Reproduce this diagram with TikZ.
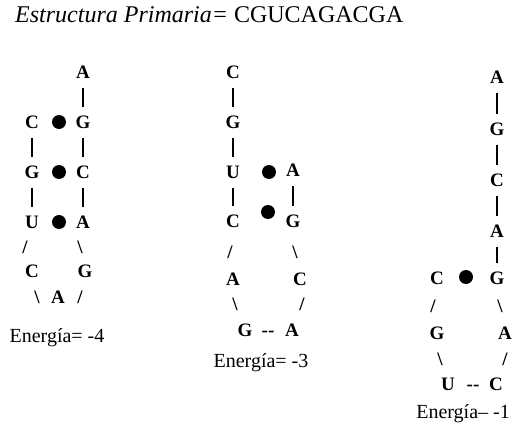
\documentclass[tikz,border=0pt]{standalone}
\usepackage{fontspec}
\setmainfont{Liberation Serif}
\begin{document}
\begin{tikzpicture}[x=1pt,y=-1pt,
  base/.style={font=\fontsize{19}{19}\selectfont\bfseries, inner sep=0pt},
  glyph/.style={font=\fontsize{19}{19}\selectfont\bfseries, inner sep=0pt, execute at begin node=\vphantom{G}},
  bp/.style={circle, fill=black, minimum size=14pt, inner sep=0pt},
  bar/.style={line width=1.5pt, shorten >=15.5pt, shorten <=15.5pt},
  lbl/.style={font=\fontsize{20}{20}\selectfont, inner sep=0pt, anchor=base}]
\useasboundingbox (0,0) rectangle (512,431);
% title
\node[inner sep=0pt, anchor=base west, font=\fontsize{24}{24}\selectfont] (title) at (15,23) {\textit{Estructura Primaria=} CGUCAGACGA};

% ---------- structure 1 ----------
\node[base] (s1a1) at (83,72) {A};
\node[base] (s1c1) at (32,122) {C};
\node[bp]   (s1p1) at (59,122) {};
\node[base] (s1g1) at (83,122) {G};
\node[base] (s1g2) at (32,172) {G};
\node[bp]   (s1p2) at (59,172) {};
\node[base] (s1c2) at (83,172) {C};
\node[base] (s1u1) at (32,222) {U};
\node[bp]   (s1p3) at (59,222) {};
\node[base] (s1a2) at (83,222) {A};
\node[glyph] (s1s1) at (25,247) {/};
\node[glyph] (s1s2) at (80,247) {\textbackslash};
\node[base] (s1c3) at (32,271) {C};
\node[base] (s1g3) at (85,271) {G};
\node[glyph] (s1s3) at (37,297) {\textbackslash};
\node[base] (s1a3) at (58,297) {A};
\node[glyph] (s1s4) at (80,297) {/};
\draw[bar] (s1a1.center) -- (s1g1.center);
\draw[bar] (s1g1.center) -- (s1c2.center);
\draw[bar] (s1c2.center) -- (s1a2.center);
\draw[bar] (s1c1.center) -- (s1g2.center);
\draw[bar] (s1g2.center) -- (s1u1.center);
\node[lbl] (e1) at (57,342) {Energía= -4};

% ---------- structure 2 ----------
\node[base] (s2c1) at (233,72) {C};
\node[base] (s2g1) at (233,122) {G};
\node[base] (s2u1) at (233,172) {U};
\node[bp]   (s2p1) at (269,172) {};
\node[base] (s2a1) at (293,170) {A};
\node[base] (s2c2) at (233,221) {C};
\node[bp]   (s2p2) at (268,212) {};
\node[base] (s2g2) at (293,221) {G};
\node[glyph] (s2s1) at (230,252) {/};
\node[glyph] (s2s2) at (295,252) {\textbackslash};
\node[base] (s2a2) at (233,279) {A};
\node[base] (s2c3) at (300,279) {C};
\node[glyph] (s2s3) at (235,304) {\textbackslash};
\node[glyph] (s2s4) at (302,304) {/};
\node[base] (s2g3) at (245,330) {G};
\node[glyph] (s2d1) at (268,330) {-{}-};
\node[base] (s2a3) at (292,330) {A};
\draw[bar] (s2c1.center) -- (s2g1.center);
\draw[bar] (s2g1.center) -- (s2u1.center);
\draw[bar] (s2u1.center) -- (s2c2.center);
\draw[bar] (s2a1.center) -- (s2g2.center);
\node[lbl] (e2) at (261,367) {Energía= -3};

% ---------- structure 3 ----------
\node[base] (s3a1) at (497,77) {A};
\node[base] (s3g1) at (497,129) {G};
\node[base] (s3c1) at (497,180) {C};
\node[base] (s3a2) at (497,231) {A};
\node[base] (s3c2) at (437,278) {C};
\node[bp]   (s3p1) at (466,277) {};
\node[base] (s3g2) at (497,278) {G};
\node[glyph] (s3s1) at (433,306) {/};
\node[glyph] (s3s2) at (500,306) {\textbackslash};
\node[base] (s3g3) at (437,333) {G};
\node[base] (s3a3) at (505,333) {A};
\node[glyph] (s3s3) at (440,359) {\textbackslash};
\node[glyph] (s3s4) at (505,359) {/};
\node[base] (s3u1) at (448,384) {U};
\node[glyph] (s3d1) at (473,384) {-{}-};
\node[base] (s3c3) at (496,384) {C};
\draw[bar] (s3a1.center) -- (s3g1.center);
\draw[bar] (s3g1.center) -- (s3c1.center);
\draw[bar] (s3c1.center) -- (s3a2.center);
\draw[bar] (s3a2.center) -- (s3g2.center);
\node[lbl, anchor=base east] (e3) at (510,418) {Energía– -1};
\end{tikzpicture}
\end{document}
